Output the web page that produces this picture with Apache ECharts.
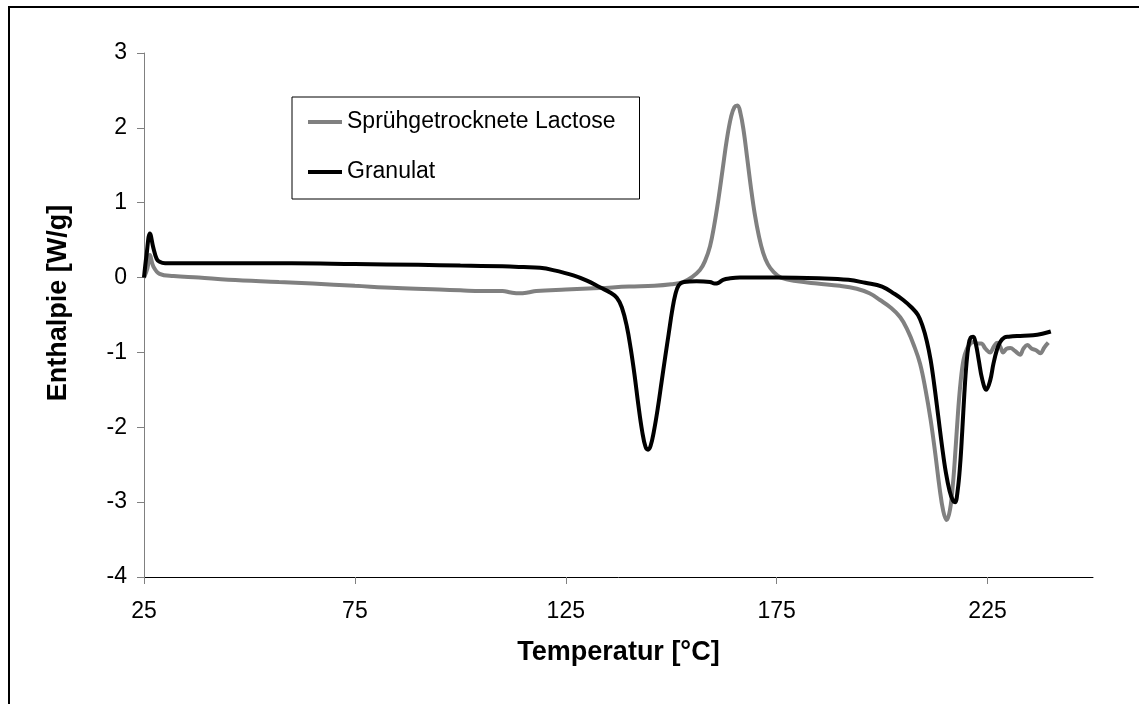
<!DOCTYPE html>
<html>
<head>
<meta charset="utf-8">
<script src="https://cdn.jsdelivr.net/npm/echarts@6/dist/echarts.min.js"></script>
<style>
html,body{margin:0;padding:0;background:#fff;}
#chart{width:1139px;height:704px;}
</style>
</head>
<body>
<div id="chart"></div>
<script>
// Tick labels
var xTicks = [25, 75, 125, 175, 225];
var yTicks = [-4, -3, -2, -1, 0, 1, 2, 3];

// Series 1: Sprühgetrocknete Lactose
var lactoseX = [25, 25.8, 26.4, 27.2, 28.7, 32, 38, 45, 57, 65, 75, 85, 95, 100, 105, 110, 112, 114, 116, 118, 125, 133, 140, 146, 150, 152.8, 155, 156.8, 158, 159.2, 160.2, 161.2, 162.2, 163.2, 164.2, 165, 165.7, 166.4, 167.2, 168, 168.9, 169.8, 170.8, 171.8, 172.9, 174.2, 176, 180, 184.6, 190, 194, 197, 199.5, 202, 204.3, 206, 207.5, 209, 210.3, 211.5, 212.6, 213.6, 214.5, 215.3, 216.1, 216.8, 217.4, 218, 218.6, 219.3, 220.1, 221, 221.6, 222.5, 223.5, 224.5, 225.6, 226.5, 227.3, 228, 228.7, 229.5, 230.4, 231.5, 232.7, 233.5, 234.4, 235.5, 236.5, 237.5, 238.5, 239.4];
var lactoseY = [0.0, 0.12, 0.30, 0.15, 0.05, 0.02, 0.0, -0.03, -0.06, -0.08, -0.11, -0.14, -0.16, -0.17, -0.18, -0.18, -0.2, -0.21, -0.2, -0.18, -0.16, -0.14, -0.12, -0.11, -0.09, -0.06, 0.01, 0.1, 0.22, 0.42, 0.7, 1.05, 1.45, 1.85, 2.15, 2.28, 2.3, 2.2, 1.95, 1.6, 1.2, 0.85, 0.55, 0.33, 0.18, 0.08, 0.0, -0.05, -0.08, -0.11, -0.15, -0.21, -0.3, -0.4, -0.53, -0.7, -0.9, -1.15, -1.5, -1.9, -2.35, -2.8, -3.12, -3.24, -3.1, -2.75, -2.3, -1.8, -1.4, -1.1, -0.95, -0.88, -0.86, -0.88, -0.88, -0.95, -1.0, -0.92, -0.87, -0.92, -1.0, -0.95, -0.94, -0.98, -1.03, -0.95, -0.9, -0.95, -0.97, -1.01, -0.93, -0.87];

// Series 2: Granulat
var granulatX = [25, 25.6, 26.4, 27.2, 28, 28.7, 30, 40, 60, 75, 90, 100, 110, 115, 118.9, 122, 126.8, 130, 133.1, 135.5, 137.1, 138.3, 139.5, 140.4, 141.3, 142.2, 143.1, 143.9, 144.5, 145.1, 145.9, 146.8, 147.7, 148.6, 149.4, 150.2, 151, 151.8, 153, 156, 159.2, 160.3, 161.2, 162.3, 164, 166.3, 175, 185, 192, 196, 200, 203, 205, 207, 208.5, 209.6, 210.6, 211.5, 212.4, 213.3, 214.2, 215.1, 216, 216.8, 217.3, 217.9, 218.5, 219, 219.5, 220, 220.5, 221, 221.6, 222.2, 222.9, 223.7, 224.7, 225.6, 226.4, 227.2, 228, 229, 230, 232, 235.8, 238, 240];
var granulatY = [0.0, 0.3, 0.59, 0.4, 0.25, 0.21, 0.19, 0.19, 0.19, 0.18, 0.17, 0.16, 0.15, 0.14, 0.13, 0.1, 0.03, -0.04, -0.13, -0.2, -0.27, -0.4, -0.66, -0.95, -1.3, -1.7, -2.05, -2.26, -2.3, -2.25, -2.05, -1.75, -1.4, -1.05, -0.75, -0.45, -0.22, -0.1, -0.06, -0.05, -0.06, -0.08, -0.07, -0.03, -0.01, 0.0, 0.0, -0.01, -0.03, -0.07, -0.12, -0.22, -0.3, -0.4, -0.5, -0.65, -0.85, -1.1, -1.45, -1.85, -2.25, -2.6, -2.85, -2.98, -3.0, -2.85, -2.5, -2.05, -1.55, -1.15, -0.9, -0.8, -0.79, -0.88, -1.1, -1.35, -1.5, -1.38, -1.15, -0.97, -0.86, -0.8, -0.79, -0.78, -0.77, -0.75, -0.72];

function pairs(xs, ys) {
  var out = [];
  for (var i = 0; i < xs.length; i++) out.push([xs[i], ys[i]]);
  return out;
}

var chart = echarts.init(document.getElementById('chart'), null, {renderer: 'canvas'});
var font = 'Liberation Sans, Arial, sans-serif';
chart.setOption({
  animation: false,
  backgroundColor: '#fff',
  graphic: [{
    type: 'rect',
    shape: {x: 9, y: 7, width: 1300, height: 900},
    style: {fill: 'none', stroke: '#000', lineWidth: 2},
    silent: true
  }],
  grid: {left: 144, right: 46, top: 53, bottom: 127, containLabel: false},
  legend: {
    orient: 'vertical',
    left: 292,
    top: 97,
    padding: [12, 24, 14, 16],
    itemGap: 24,
    itemWidth: 34,
    itemHeight: 4,
    icon: 'rect',
    borderColor: '#000',
    borderWidth: 1,
    backgroundColor: '#fff',
    textStyle: {fontFamily: font, fontSize: 23, color: '#000', lineHeight: 26},
    data: ['Sprühgetrocknete Lactose', 'Granulat']
  },
  xAxis: {
    type: 'value',
    min: 25,
    max: 250,
    interval: 50,
    name: 'Temperatur [°C]',
    nameLocation: 'middle',
    nameGap: 62,
    nameTextStyle: {fontFamily: font, fontSize: 27, fontWeight: 'bold', color: '#000'},
    axisLine: {onZero: false, lineStyle: {color: '#000', width: 1}},
    axisTick: {show: true, length: 7, lineStyle: {color: '#808080'}, customValues: xTicks},
    axisLabel: {fontFamily: font, fontSize: 23, color: '#000', margin: 23, customValues: xTicks},
    splitLine: {show: false}
  },
  yAxis: {
    type: 'value',
    min: -4,
    max: 3,
    interval: 1,
    name: 'Enthalpie [W/g]',
    nameLocation: 'middle',
    nameGap: 72,
    nameTextStyle: {fontFamily: font, fontSize: 27, fontWeight: 'bold', color: '#000', padding: [0, 0, 0, 24]},
    axisLine: {show: true, lineStyle: {color: '#808080', width: 1}},
    axisTick: {show: true, length: 7, lineStyle: {color: '#808080'}, customValues: yTicks},
    axisLabel: {fontFamily: font, fontSize: 23, color: '#000', margin: 17, customValues: yTicks},
    splitLine: {show: false}
  },
  series: [{
    name: 'Sprühgetrocknete Lactose',
    type: 'line',
    data: pairs(lactoseX, lactoseY),
    showSymbol: false,
    symbol: 'none',
    smooth: 0.4,
    lineStyle: {color: '#808080', width: 4},
    itemStyle: {color: '#808080'},
    z: 2
  }, {
    name: 'Granulat',
    type: 'line',
    data: pairs(granulatX, granulatY),
    showSymbol: false,
    symbol: 'none',
    smooth: 0.4,
    lineStyle: {color: '#000', width: 4},
    itemStyle: {color: '#000'},
    z: 3
  }]
});
</script>
</body>
</html>
